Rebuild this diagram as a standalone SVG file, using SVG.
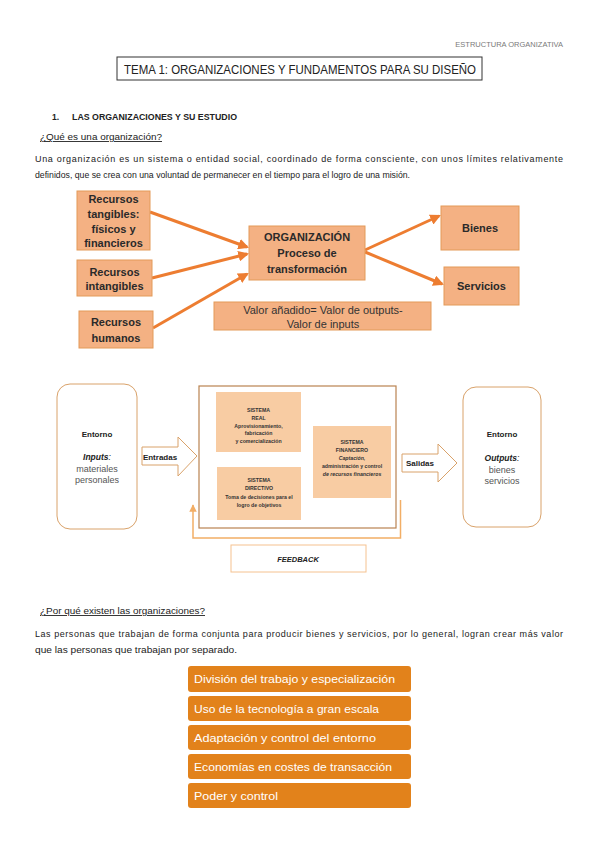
<svg xmlns="http://www.w3.org/2000/svg" width="599" height="848" viewBox="0 0 599 848">
<defs>
<style>
text{font-family:"Liberation Sans",Arial,sans-serif;fill:#222}
.ob{fill:#F4B183;stroke:#E39A58;stroke-width:1}
.ot{font-size:11px;font-weight:bold;text-anchor:middle;fill:#2a2a2a}
.arr{stroke:#ED7D31;stroke-width:3;fill:none}
.sys{fill:#F8CCA3}
.st{font-size:5.2px;font-weight:bold;text-anchor:middle;fill:#333}
.env{fill:#fff;stroke:#D9A26A;stroke-width:1}
.blk{fill:#fff;stroke:#D9A26A;stroke-width:1}
.li{fill:#E2821B}
.lt{font-size:11.5px;fill:#fff}
.p{font-size:9px}
</style>
<marker id="ah" viewBox="0 0 10 10" refX="8" refY="5" markerWidth="3.6" markerHeight="3.6" orient="auto" markerUnits="strokeWidth">
<path d="M0,0 L10,5 L0,10 z" fill="#ED7D31"/>
</marker>
<marker id="fh" viewBox="0 0 10 10" refX="9" refY="5" markerWidth="5" markerHeight="5" orient="auto" markerUnits="strokeWidth">
<path d="M0,0 L10,5 L0,10 z" fill="#F2AE66"/>
</marker>
</defs>
<rect width="599" height="848" fill="#fff"/>

<g id="header">
<text x="563" y="47" font-size="7.5" text-anchor="end" fill="#7a7a7a" style="fill:#7a7a7a">ESTRUCTURA ORGANIZATIVA</text>
<rect x="117" y="57" width="365" height="23" fill="none" stroke="#333" stroke-width="1"/>
<text x="300" y="74" font-size="12" text-anchor="middle" textLength="352" lengthAdjust="spacingAndGlyphs">TEMA 1: ORGANIZACIONES Y FUNDAMENTOS PARA SU DISEÑO</text>
<text x="52" y="120" font-size="8.5" font-weight="bold">1.</text>
<text x="72" y="120" font-size="8.5" font-weight="bold" textLength="165" lengthAdjust="spacingAndGlyphs">LAS ORGANIZACIONES Y SU ESTUDIO</text>
<text x="40" y="140" class="p" text-decoration="underline" textLength="122" lengthAdjust="spacingAndGlyphs">¿Qué es una organización?</text>
<text x="35" y="162" class="p" textLength="528" lengthAdjust="spacing">Una organización es un sistema o entidad social, coordinado de forma consciente, con unos límites relativamente</text>
<text x="35" y="178" class="p" textLength="375" lengthAdjust="spacingAndGlyphs">definidos, que se crea con una voluntad de permanecer en el tiempo para el logro de una misión.</text>
</g>

<g id="connectors-orange">
<line class="arr" x1="150" y1="212" x2="247" y2="247" marker-end="url(#ah)"/>
<line class="arr" x1="152" y1="278" x2="247" y2="254" marker-end="url(#ah)"/>
<line class="arr" x1="153" y1="328" x2="247" y2="274" marker-end="url(#ah)"/>
<line class="arr" x1="365" y1="250" x2="439" y2="216" marker-end="url(#ah)"/>
<line class="arr" x1="365" y1="252" x2="442" y2="284" marker-end="url(#ah)"/>
</g>

<g id="rec-tangibles">
<rect class="ob" x="77" y="191" width="73" height="59"/>
<text class="ot" x="113.5" y="203">Recursos</text>
<text class="ot" x="113.5" y="218">tangibles:</text>
<text class="ot" x="113.5" y="233">físicos y</text>
<text class="ot" x="113.5" y="247">financieros</text>
</g>
<g id="rec-intangibles">
<rect class="ob" x="77" y="260" width="75" height="36"/>
<text class="ot" x="114.5" y="276">Recursos</text>
<text class="ot" x="114.5" y="290">intangibles</text>
</g>
<g id="rec-humanos">
<rect class="ob" x="79" y="311" width="74" height="37"/>
<text class="ot" x="116" y="326">Recursos</text>
<text class="ot" x="116" y="342">humanos</text>
</g>
<g id="organizacion">
<rect class="ob" x="249" y="226" width="116" height="54"/>
<text class="ot" x="307" y="241">ORGANIZACIÓN</text>
<text class="ot" x="307" y="257">Proceso de</text>
<text class="ot" x="307" y="273">transformación</text>
</g>
<g id="bienes">
<rect class="ob" x="441" y="206" width="78" height="44"/>
<text class="ot" x="480" y="232">Bienes</text>
</g>
<g id="servicios">
<rect class="ob" x="444" y="267" width="75" height="38"/>
<text class="ot" x="481.5" y="290">Servicios</text>
</g>
<g id="valor">
<rect class="ob" x="214" y="302" width="217" height="28"/>
<text x="323" y="314" font-size="11" text-anchor="middle" fill="#333" style="fill:#333">Valor añadido= Valor de outputs-</text>
<text x="323" y="328" font-size="11" text-anchor="middle" fill="#333" style="fill:#333">Valor de inputs</text>
</g>

<g id="connectors-system">
<polygon class="blk" points="142,447 178,447 178,437 197,456 178,476 178,465 142,465"/>
<polygon class="blk" points="402,454 438,454 438,444 457,463 438,482 438,472 402,472"/>
<path d="M400.5,500 V538 H193 V505" fill="none" stroke="#F2AE66" stroke-width="1.5" marker-end="url(#fh)"/>
<text x="160" y="459.5" font-size="8" font-weight="bold" text-anchor="middle">Entradas</text>
<text x="420" y="466" font-size="8" font-weight="bold" text-anchor="middle">Salidas</text>
</g>

<g id="entorno-in">
<rect class="env" x="57" y="384" width="80" height="145" rx="13"/>
<text x="97" y="437" font-size="8" font-weight="bold" text-anchor="middle">Entorno</text>
<text x="97" y="460" font-size="8.5" font-weight="bold" font-style="italic" text-anchor="middle">Inputs<tspan font-weight="normal">:</tspan></text>
<text x="97" y="472" font-size="9" text-anchor="middle" style="fill:#555">materiales</text>
<text x="97" y="483" font-size="9" text-anchor="middle" style="fill:#555">personales</text>
</g>

<g id="organizacion-sistema">
<rect x="199" y="386" width="197" height="142" fill="#fff" stroke="#B98350" stroke-width="1.2"/>
</g>
<g id="sistema-real">
<rect class="sys" x="216" y="392" width="85" height="60"/>
<text class="st" x="258.5" y="412">SISTEMA</text>
<text class="st" x="258.5" y="420">REAL</text>
<text class="st" x="258.5" y="428">Aprovisionamiento,</text>
<text class="st" x="258.5" y="435">fabricación</text>
<text class="st" x="258.5" y="443">y comercialización</text>
</g>
<g id="sistema-directivo">
<rect class="sys" x="217" y="467" width="84" height="53"/>
<text class="st" x="259" y="482">SISTEMA</text>
<text class="st" x="259" y="490">DIRECTIVO</text>
<text class="st" x="259" y="499">Toma de decisiones para el</text>
<text class="st" x="259" y="507">logro de objetivos</text>
</g>
<g id="sistema-financiero">
<rect class="sys" x="313" y="426" width="78" height="72"/>
<text class="st" x="352" y="444">SISTEMA</text>
<text class="st" x="352" y="452">FINANCIERO</text>
<text class="st" x="352" y="460" font-style="italic">Captación,</text>
<text class="st" x="352" y="468">administración y control</text>
<text class="st" x="352" y="476" font-style="italic">de recursos financieros</text>
</g>

<g id="entorno-out">
<rect class="env" x="463" y="387" width="78" height="140" rx="13"/>
<text x="502" y="437" font-size="8" font-weight="bold" text-anchor="middle">Entorno</text>
<text x="502" y="461" font-size="8.5" font-weight="bold" font-style="italic" text-anchor="middle">Outputs<tspan font-weight="normal">:</tspan></text>
<text x="502" y="473" font-size="9" text-anchor="middle" style="fill:#555">bienes</text>
<text x="502" y="484" font-size="9" text-anchor="middle" style="fill:#555">servicios</text>
</g>

<g id="feedback">
<rect x="231" y="545" width="135" height="27" fill="#fff" stroke="#F5C290" stroke-width="1"/>
<text x="298" y="562" font-size="7.5" font-weight="bold" font-style="italic" text-anchor="middle">FEEDBACK</text>
</g>

<g id="section2">
<text x="40" y="614" class="p" text-decoration="underline" textLength="165" lengthAdjust="spacingAndGlyphs">¿Por qué existen las organizaciones?</text>
<text x="35" y="637" class="p" textLength="528" lengthAdjust="spacing">Las personas que trabajan de forma conjunta para producir bienes y servicios, por lo general, logran crear más valor</text>
<text x="35" y="653" class="p" textLength="202" lengthAdjust="spacingAndGlyphs">que las personas que trabajan por separado.</text>
</g>

<g id="item1"><rect class="li" x="188" y="666" width="223" height="26" rx="3"/><text class="lt" x="194" y="683" textLength="201" lengthAdjust="spacingAndGlyphs">División del trabajo y especialización</text></g>
<g id="item2"><rect class="li" x="188" y="696" width="223" height="25" rx="3"/><text class="lt" x="194" y="712.5" textLength="185" lengthAdjust="spacingAndGlyphs">Uso de la tecnología a gran escala</text></g>
<g id="item3"><rect class="li" x="188" y="725" width="223" height="25" rx="3"/><text class="lt" x="194" y="741.5" textLength="182" lengthAdjust="spacingAndGlyphs">Adaptación y control del entorno</text></g>
<g id="item4"><rect class="li" x="188" y="754" width="223" height="25" rx="3"/><text class="lt" x="194" y="770.5" textLength="198" lengthAdjust="spacingAndGlyphs">Economías en costes de transacción</text></g>
<g id="item5"><rect class="li" x="188" y="783" width="223" height="25" rx="3"/><text class="lt" x="194" y="799.5" textLength="84" lengthAdjust="spacingAndGlyphs">Poder y control</text></g>
</svg>
